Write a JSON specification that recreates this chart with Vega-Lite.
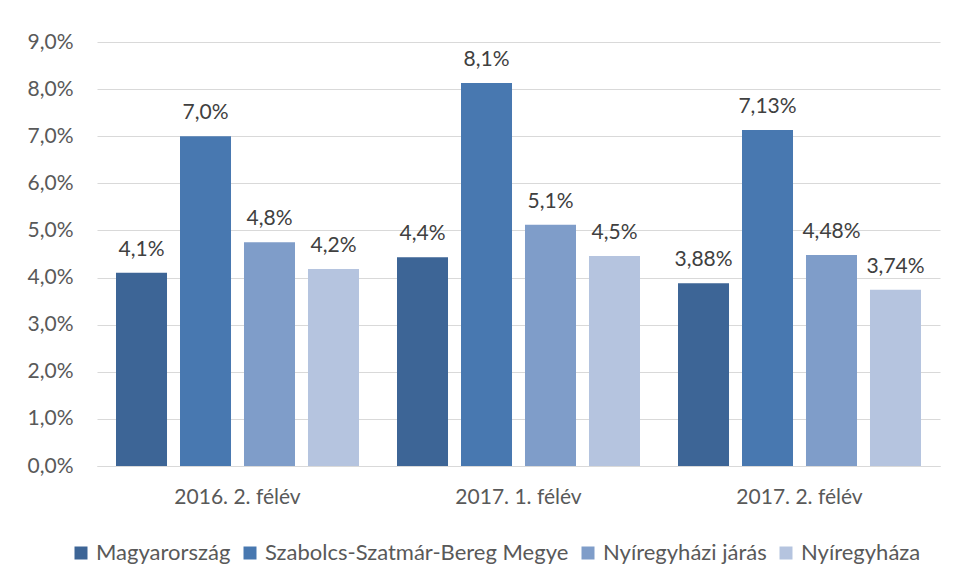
{
  "$schema": "https://vega.github.io/schema/vega-lite/v6.json",
  "autosize": "none",
  "width": 843,
  "height": 424,
  "padding": {"left": 97, "top": 42, "right": 17, "bottom": 114},
  "background": "white",
  "config": {
    "locale": {"number": {"decimal": ",", "thousands": " ", "grouping": [3], "currency": ["", " Ft"]}},
    "view": {"stroke": null},
    "font": "Lato"
  },
  "data": {
    "values": [
      {"period": "2016. 2. félév", "area": "Magyarország", "value": 0.041, "label": "4,1%"},
      {"period": "2016. 2. félév", "area": "Szabolcs-Szatmár-Bereg Megye", "value": 0.070, "label": "7,0%"},
      {"period": "2016. 2. félév", "area": "Nyíregyházi járás", "value": 0.0475, "label": "4,8%"},
      {"period": "2016. 2. félév", "area": "Nyíregyháza", "value": 0.0418, "label": "4,2%"},
      {"period": "2017. 1. félév", "area": "Magyarország", "value": 0.0443, "label": "4,4%"},
      {"period": "2017. 1. félév", "area": "Szabolcs-Szatmár-Bereg Megye", "value": 0.0813, "label": "8,1%"},
      {"period": "2017. 1. félév", "area": "Nyíregyházi járás", "value": 0.0512, "label": "5,1%"},
      {"period": "2017. 1. félév", "area": "Nyíregyháza", "value": 0.0446, "label": "4,5%"},
      {"period": "2017. 2. félév", "area": "Magyarország", "value": 0.0388, "label": "3,88%"},
      {"period": "2017. 2. félév", "area": "Szabolcs-Szatmár-Bereg Megye", "value": 0.0713, "label": "7,13%"},
      {"period": "2017. 2. félév", "area": "Nyíregyházi járás", "value": 0.0448, "label": "4,48%"},
      {"period": "2017. 2. félév", "area": "Nyíregyháza", "value": 0.0374, "label": "3,74%"}
    ]
  },
  "encoding": {
    "x": {
      "field": "period", "type": "nominal", "sort": null,
      "scale": {"paddingInner": 0, "paddingOuter": 0},
      "axis": {"title": null, "labelAngle": 0, "ticks": false, "labelPadding": 20, "labelFontSize": 21, "labelColor": "#595959", "domainColor": "#D9D9D9", "grid": false}
    },
    "xOffset": {
      "field": "area", "type": "nominal", "sort": ["Magyarország", "Szabolcs-Szatmár-Bereg Megye", "Nyíregyházi járás", "Nyíregyháza"],
      "scale": {"paddingInner": 0.203, "paddingOuter": 0.297}
    },
    "y": {
      "field": "value", "type": "quantitative",
      "scale": {"domain": [0, 0.09], "nice": false},
      "axis": {"title": null, "format": ".1%", "values": [0, 0.01, 0.02, 0.03, 0.04, 0.05, 0.06, 0.07, 0.08, 0.09], "ticks": false, "domain": false, "labelPadding": 24, "labelFontSize": 21, "labelColor": "#595959", "gridColor": "#D9D9D9", "gridWidth": 1}
    }
  },
  "layer": [
    {
      "mark": {"type": "bar"},
      "encoding": {
        "color": {
          "field": "area", "type": "nominal",
          "sort": ["Magyarország", "Szabolcs-Szatmár-Bereg Megye", "Nyíregyházi járás", "Nyíregyháza"],
          "scale": {"domain": ["Magyarország", "Szabolcs-Szatmár-Bereg Megye", "Nyíregyházi járás", "Nyíregyháza"], "range": ["#3D6596", "#4878B0", "#7F9DC9", "#B5C4DF"]},
          "legend": {
            "title": null, "orient": "none", "direction": "horizontal",
            "legendX": -27, "legendY": 500,
            "symbolType": "square", "symbolSize": 169, "symbolStrokeWidth": 0,
            "labelFontSize": 22, "labelColor": "#595959", "labelOffset": 4,
            "columnPadding": 8, "labelLimit": 400
          }
        }
      }
    },
    {
      "mark": {"type": "text", "baseline": "bottom", "dy": -13, "fontSize": 21, "color": "#404040"},
      "encoding": {"text": {"field": "label"}}
    }
  ]
}
